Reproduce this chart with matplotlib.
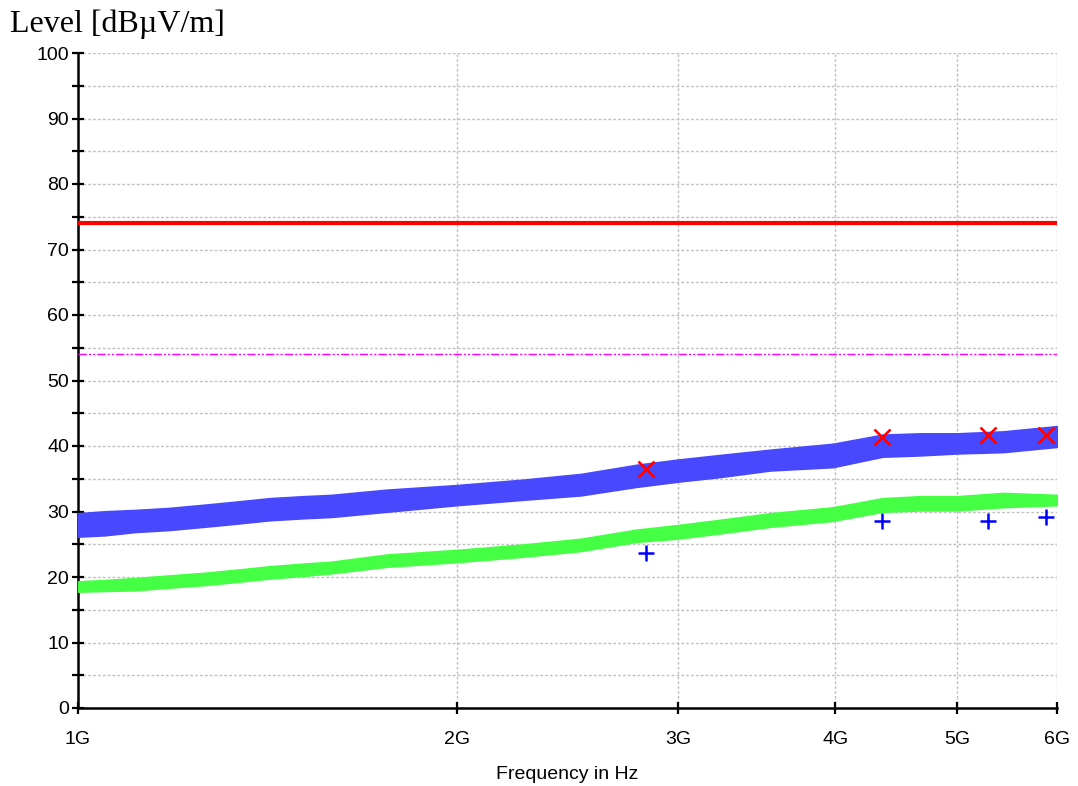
import matplotlib
matplotlib.use("Agg")
import matplotlib.pyplot as plt
from matplotlib.ticker import FixedLocator, NullFormatter

# ---- data ----
freq_ghz = [1.00, 1.05, 1.11, 1.18, 1.26, 1.34, 1.42, 1.51, 1.59, 1.76, 2.00,
            2.25, 2.51, 2.78, 3.00, 3.24, 3.55, 3.98, 4.36, 4.67, 5.00, 5.44, 6.00]
peak_lo = [26.2, 26.4, 26.9, 27.2, 27.7, 28.2, 28.7, 29.0, 29.2, 30.0, 31.0,
           31.8, 32.5, 33.8, 34.6, 35.3, 36.3, 36.8, 38.4, 38.6, 38.9, 39.1, 39.9]
peak_hi = [29.7, 30.0, 30.2, 30.5, 31.0, 31.5, 32.0, 32.3, 32.5, 33.3, 34.0,
           34.8, 35.7, 37.1, 37.9, 38.6, 39.4, 40.3, 41.7, 41.9, 41.9, 42.2, 43.0]
avg_lo = [17.8, 17.9, 18.0, 18.4, 18.8, 19.3, 19.8, 20.2, 20.6, 21.6, 22.3,
          23.1, 24.0, 25.4, 25.9, 26.7, 27.7, 28.6, 30.0, 30.2, 30.2, 30.7, 31.0]
avg_hi = [19.3, 19.5, 19.8, 20.2, 20.6, 21.1, 21.6, 22.0, 22.3, 23.4, 24.1,
          24.9, 25.8, 27.2, 27.9, 28.7, 29.7, 30.6, 32.0, 32.3, 32.3, 32.8, 32.5]

limit_peak = 74.0
limit_avg = 54.0

peak_mark_f = [2.828, 4.356, 5.288, 5.881]
peak_mark_v = [36.5, 41.4, 41.7, 41.7]
avg_mark_f = [2.828, 4.356, 5.288, 5.881]
avg_mark_v = [23.7, 28.5, 28.5, 29.1]

xtick_vals = [1, 2, 3, 4, 5, 6]
xtick_labels = ["1G", "2G", "3G", "4G", "5G", "6G"]
ytick_major = list(range(0, 101, 10))
ytick_minor = list(range(5, 100, 10))

# ---- figure ----
W, H = 1078, 786
fig = plt.figure(figsize=(W / 100, H / 100), dpi=100)
left, right, bottom, top = 78 / W, 1057 / W, 1 - 708 / H, 1 - 53 / H
ax = fig.add_axes([left, bottom, right - left, top - bottom])

ax.set_xscale("log")
ax.set_xlim(1, 6)
ax.set_ylim(0, 100)

grid_kw = dict(color="#c0c0c0", linestyle=(0, (2, 1.5)), linewidth=1.0, zorder=0)
for v in ytick_major + ytick_minor:
    if v > 0:
        ax.axhline(v, **grid_kw)
for v in xtick_vals[1:]:
    ax.axvline(v, **grid_kw)

ax.fill_between(freq_ghz, peak_lo, peak_hi, color="#4848ff", linewidth=1.5,
                edgecolor="#4848ff", zorder=3)
ax.fill_between(freq_ghz, avg_lo, avg_hi, color="#44ff44", linewidth=1.5,
                edgecolor="#44ff44", zorder=3)

ax.axhline(limit_peak, color="#ff0000", linewidth=3.0, zorder=4)
ax.axhline(limit_avg, color="#ff00ff", linewidth=1.0,
           linestyle=(0, (6, 1.5, 1.5, 1.5, 1.5, 1.5)), zorder=4)

ax.plot(peak_mark_f, peak_mark_v, linestyle="none", marker="x", color="#ff0000",
        markersize=11.5, markeredgewidth=1.8, zorder=5)
ax.plot(avg_mark_f, avg_mark_v, linestyle="none", marker="+", color="#0000ff",
        markersize=12, markeredgewidth=1.8, zorder=5)

# spines
for s in ["top", "right"]:
    ax.spines[s].set_visible(False)
for s in ["left", "bottom"]:
    ax.spines[s].set_linewidth(1.8)
    ax.spines[s].set_color("black")

# ticks
ax.xaxis.set_major_locator(FixedLocator(xtick_vals))
ax.xaxis.set_minor_locator(FixedLocator([]))
ax.set_xticklabels(xtick_labels)
ax.xaxis.set_minor_formatter(NullFormatter())
ax.yaxis.set_major_locator(FixedLocator(ytick_major))
ax.yaxis.set_minor_locator(FixedLocator(ytick_minor))

tick_font = "Liberation Sans"
ax.tick_params(axis="both", which="both", direction="inout", length=9,
               width=1.6, color="black")
ax.tick_params(axis="y", which="major", labelsize=14, pad=2)
ax.tick_params(axis="x", which="major", labelsize=14, pad=12)
for lab in ax.get_xticklabels() + ax.get_yticklabels():
    lab.set_fontfamily(tick_font)

ax.set_xlabel("Frequency in Hz", fontsize=14, fontfamily=tick_font, labelpad=13)
fig.text(10 / W, 1 - 32 / H, "Level [dBµV/m]", fontsize=23,
         fontfamily="Liberation Serif", va="baseline", ha="left")

fig.savefig("out.png", dpi=100)
